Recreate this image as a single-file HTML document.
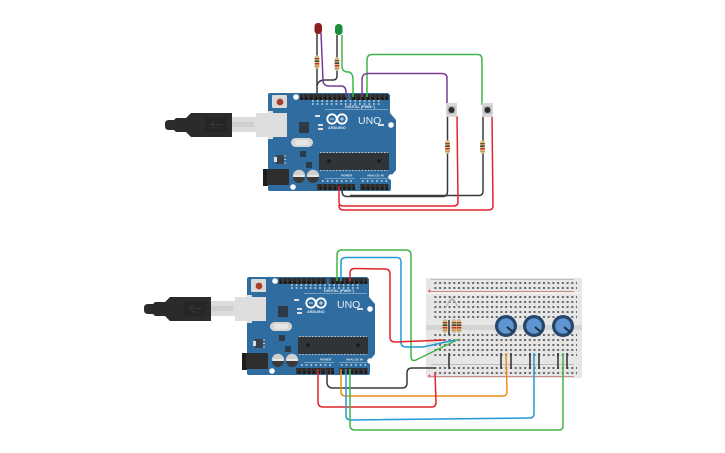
<!DOCTYPE html>
<html><head><meta charset="utf-8"><style>
html,body{margin:0;padding:0;background:#fff;width:725px;height:453px;overflow:hidden}
svg{display:block}
text{font-family:"Liberation Sans",sans-serif}
.w{fill:none;stroke-width:1.500;stroke-linejoin:round}
</style></head><body>
<svg width="725" height="453" viewBox="0 0 725 453" xmlns="http://www.w3.org/2000/svg">
<defs>
<pattern id="hdr" x="0" y="0" width="4.75" height="6" patternUnits="userSpaceOnUse"><rect width="4.75" height="6" fill="#2d2d2d"/><rect x="1.4" y="1.5" width="2" height="2" fill="#111"/><rect x="4.3" width=".45" height="6" fill="#555"/></pattern>
<pattern id="hole" x="433" y="0" width="4.72" height="453" patternUnits="userSpaceOnUse">
<rect x="1.4" y="282" width="2" height="2" fill="#666"/><rect x="1.4" y="287" width="2" height="2" fill="#666"/>
<rect x="1.4" y="296" width="2" height="2" fill="#666"/><rect x="1.4" y="301" width="2" height="2" fill="#666"/><rect x="1.4" y="306" width="2" height="2" fill="#666"/><rect x="1.4" y="311" width="2" height="2" fill="#666"/><rect x="1.4" y="316" width="2" height="2" fill="#666"/>
<rect x="1.4" y="334" width="2" height="2" fill="#666"/><rect x="1.4" y="339" width="2" height="2" fill="#666"/><rect x="1.4" y="344" width="2" height="2" fill="#666"/><rect x="1.4" y="349" width="2" height="2" fill="#666"/><rect x="1.4" y="354" width="2" height="2" fill="#666"/>
<rect x="1.4" y="367" width="2" height="2" fill="#666"/><rect x="1.4" y="372" width="2" height="2" fill="#666"/>
</pattern>
<g id="board">
 <!-- usb -->
 <rect x="232" y="117" width="24" height="15" fill="#dcdcdc"/><rect x="232" y="122" width="22" height="5" fill="#cfcfcf"/>
 <path d="M165,124 q0,-4 4,-4 h5 l2,-2 h10 l5,-5 h41 v24 h-41 l-5,-5 h-10 l-2,-2 h-5 q-4,0 -4,-4z" fill="#2b2b2b"/>
 <rect x="205" y="117" width="22" height="15" fill="#262626"/>
 <path d="M209,124.500h14M214,121l-3,3.500 3,3.500h4" stroke="#3a3a3a" fill="none"/>
 <path d="M268,95 q0,-2 2,-2 H388 l2,2 V113 l6,7 V170 l-5,6 V189 q0,2 -2,2 H270 q-2,0 -2,-2z" fill="#2f6c9f"/>
 <rect x="256" y="113" width="31" height="24" fill="#dedede"/><rect x="268" y="111" width="5" height="2" fill="#dedede"/><rect x="268" y="137" width="5" height="2" fill="#dedede"/>
 <rect x="272" y="95" width="15" height="13" rx="1" fill="#d9d9d9"/><circle cx="280" cy="102" r="3.400" fill="#a6402b"/>
 <rect x="300" y="94" width="47.500" height="6" fill="url(#hdr)"/><rect x="350.500" y="94" width="38" height="6" fill="url(#hdr)"/>
 <rect x="317" y="184" width="38" height="6" fill="url(#hdr)"/><rect x="360" y="184" width="28.500" height="6" fill="url(#hdr)"/>
 <circle cx="296" cy="97" r="2.800" fill="#fff"/><circle cx="391" cy="125" r="2.800" fill="#fff"/><circle cx="391" cy="177" r="2.800" fill="#fff"/><circle cx="293" cy="187" r="2.800" fill="#fff"/>
 <rect x="299" y="122" width="10" height="11" fill="#2e3a45"/>
 <rect x="291" y="138" width="22" height="9" rx="4.500" fill="#d5d5d5"/><rect x="295" y="140" width="14" height="5" rx="2.500" fill="#e6e6e6"/>
 <rect x="319" y="153" width="70" height="17" fill="#2f3438"/><circle cx="329" cy="161" r="1.800" fill="#15181a"/><circle cx="379" cy="161" r="1.800" fill="#15181a"/>
 <path d="M320,152.500H388M320,170.500H388" stroke="#ccc" stroke-width="1" stroke-dasharray="1.500 1.700"/>
 <rect x="263" y="169" width="5" height="17" fill="#1e1e1e"/><rect x="267" y="169" width="22" height="16" rx="1" fill="#2e2e2e"/>
 <circle cx="299" cy="176" r="6.200" fill="#cfcfcf"/><path d="M293,177a6,6 0 0 0 12,0z" fill="#3a3a3a"/><path d="M294,176h10" stroke="#fff"/>
 <circle cx="313" cy="176" r="6.200" fill="#cfcfcf"/><path d="M307,177a6,6 0 0 0 12,0z" fill="#3a3a3a"/><path d="M308,176h10" stroke="#fff"/>
 <rect x="276" y="155" width="8" height="9" fill="#37424c"/><rect x="274" y="157" width="3" height="5" fill="#ddd"/><path d="M284,156h2M284,159.500h2M284,163h2" stroke="#ccc"/>
 <rect x="300" y="151" width="6" height="6" fill="#2d3b47"/><rect x="306" y="162" width="6" height="6" fill="#2d3b47"/>
 <rect x="315" y="115" width="5" height="2" fill="#ddd"/><rect x="318" y="124" width="5" height="2" fill="#ddd"/><rect x="318" y="128" width="5" height="2" fill="#ddd"/><rect x="378" y="124" width="6" height="2" fill="#ddd"/>
 <path d="M325,109.500H388M360,178.500H388M325,178.500H355" stroke="#bcd2e2" stroke-width=".6"/>
 <circle cx="332" cy="119" r="4.700" fill="none" stroke="#fff" stroke-width="1.800"/><circle cx="342" cy="119" r="4.700" fill="none" stroke="#fff" stroke-width="1.800"/>
 <path d="M330,119h4M340,119h4M342,117v4" stroke="#fff" stroke-width=".8"/>
</g>
<g id="res"><path d="M0,-7v14" stroke="#999" stroke-width="1"/><rect x="-2.300" y="-6.500" width="4.600" height="13" rx="1.800" fill="#d8bd88"/><rect x="-2.300" y="-4" width="4.600" height="1.300" fill="#7a4a22"/><rect x="-2.300" y="-1.500" width="4.600" height="1.300" fill="#222"/><rect x="-2.300" y="1" width="4.600" height="1.500" fill="#cc3322"/><rect x="-2.300" y="3.800" width="4.600" height="1" fill="#b8923a"/></g>
<g id="btn"><rect x="-5.500" y="-7" width="11" height="14" fill="#d8d8d8"/><rect x="-4" y="-4" width="8" height="8" fill="#bbb"/><circle r="3" fill="#2b2b2b"/></g>
<g id="pot"><circle r="11" fill="#27476a"/><circle r="7.800" fill="#5f95d0"/><path d="M1,1L7,6" stroke="#1e2f42" stroke-width="2"/></g>
</defs>
<rect width="725" height="453" fill="#fff"/>

<!-- top circuit -->
<use href="#board"/>
<g fill="#e4edf4">
<text x="345" y="108" font-size="3.800" font-weight="bold">DIGITAL (PWM~)</text>
<text x="358" y="124" font-size="10.500">UNO</text>
<text x="328" y="129" font-size="3.800" font-weight="bold">ARDUINO</text>
<text x="341" y="176.500" font-size="3" font-weight="bold">POWER</text>
<text x="367" y="176.500" font-size="3" font-weight="bold">ANALOG IN</text>
</g>
<path d="M312,101h70M312,104h70M322,181h30M362,181h26" stroke="#c9dbe8" stroke-width="1.500" stroke-dasharray="1.700 3"/>
<g class="w">
<path d="M317,33V94" stroke="#3a3a3a"/>
<path d="M337,35V76Q337,80 333,80H325Q318,80 317,86" stroke="#3a3a3a"/>
<path d="M321,33L323,80Q323,86 329,86H341Q346,86 346,92V97" stroke="#7b3a96"/>
<path d="M342,35V66Q342,72 348,72Q353,72 353,80V97" stroke="#3fb549"/>
<path d="M367,97V60Q367,54.500 372,54.500H478Q482,54.500 482,60V105" stroke="#3fb549"/>
<path d="M362,97V80Q362,73.500 368,73.500H442Q447,73.500 447,78V105" stroke="#7b3a96"/>
<path d="M447.500,116V191Q447.500,196.500 443,196.500H347Q342,196.500 342,191V185" stroke="#3a3a3a"/>
<path d="M483,116V191Q483,195.500 479,195.500H350" stroke="#3a3a3a"/>
<path d="M457,116L458,202Q458,206 453,206H343Q339,206 339,202V186" stroke="#e0262b"/>
<path d="M492,116L493,206Q493,210 488,210H343Q339,210 339,205" stroke="#e0262b"/>
</g>
<rect x="314.500" y="23" width="7.500" height="11" rx="3.400" fill="#8c1f1f"/>
<rect x="335" y="24" width="7.500" height="11" rx="3.400" fill="#1f8c3a"/>
<use href="#res" x="317" y="62"/><use href="#res" x="337" y="64"/>
<use href="#btn" x="451.500" y="110"/><use href="#btn" x="487.500" y="110"/>
<use href="#res" x="447.500" y="147"/><use href="#res" x="482.500" y="147"/>

<!-- breadboard -->
<rect x="426" y="278" width="156" height="100" fill="#e6e6e6"/>
<rect x="426" y="292.500" width="156" height="1.500" fill="#f2f2f2"/>
<rect x="426" y="325" width="156" height="5" fill="#d4d4d4"/>
<rect x="433" y="278" width="144" height="100" fill="url(#hole)"/>
<path d="M431,279.500H574" stroke="#bdbdbd"/><path d="M431,291.500H574M431,376.500H574" stroke="#c98a8a"/><path d="M431,364.500H574" stroke="#bdbdbd"/>
<path d="M428,291h3M429.500,289.500v3M428,376h3M429.500,374.500v3" stroke="#d33" stroke-width=".7"/>
<path d="M447,305l5,-7 5,7M449,300h6M445,308l4,-6M459,308l-4,-6" stroke="#a8a8a8" fill="none" stroke-width=".8"/>

<!-- bottom circuit -->
<g transform="translate(-21,184)"><use href="#board"/></g>
<g fill="#e4edf4">
<text x="324" y="292" font-size="3.800" font-weight="bold">DIGITAL (PWM~)</text>
<text x="337" y="308" font-size="10.500">UNO</text>
<text x="307" y="313" font-size="3.800" font-weight="bold">ARDUINO</text>
<text x="320" y="360.500" font-size="3" font-weight="bold">POWER</text>
<text x="346" y="360.500" font-size="3" font-weight="bold">ANALOG IN</text>
</g>
<path d="M291,285h70M291,288h70M301,365h30M341,365h26" stroke="#c9dbe8" stroke-width="1.500" stroke-dasharray="1.700 3"/>
<path d="M449,320V335M449,353V369M501,353V369M511,353V369M530,353V369M539,353V369M558,353V369M567,353V369" stroke="#2e2e2e" stroke-width="1.500"/>
<use href="#res" x="445" y="326"/><use href="#res" x="454" y="326"/><use href="#res" x="459" y="326"/>
<use href="#pot" x="506" y="326"/><use href="#pot" x="534" y="326"/><use href="#pot" x="563" y="326"/>
<g class="w">
<path d="M337,281V255Q337,250 342,250H406Q411,250 411,255V356Q411,362 416,360L459,339" stroke="#3fb549"/>
<path d="M341,281V262Q341,257.500 346,257.500H397Q401,257.500 401,262V342Q401,347 406,347H423L455,340" stroke="#1f9ad6"/>
<path d="M350,281V273Q350,268.500 355,268.500L385,269Q390,269 390,274V337Q390,342 395,342L445,340" stroke="#e0262b"/>
<path d="M327,369V382Q327,388 333,388H402Q407,388 407,383V373Q407,368 412,368H435" stroke="#3a3a3a"/>
<path d="M341,369V392Q341,396 346,396H503Q507,396 507,392L506,353" stroke="#f08c1a"/>
<path d="M318,369V402Q318,407 323,407H432Q436,407 436,402L435,373" stroke="#e0262b"/>
<path d="M346,369V415Q346,420 351,420L530,418Q534,418 534,413V353" stroke="#1f9ad6"/>
<path d="M350,369V425Q350,430 355,430H559Q563,430 563,426V353" stroke="#3fb549"/>
</g>
</svg>
</body></html>
